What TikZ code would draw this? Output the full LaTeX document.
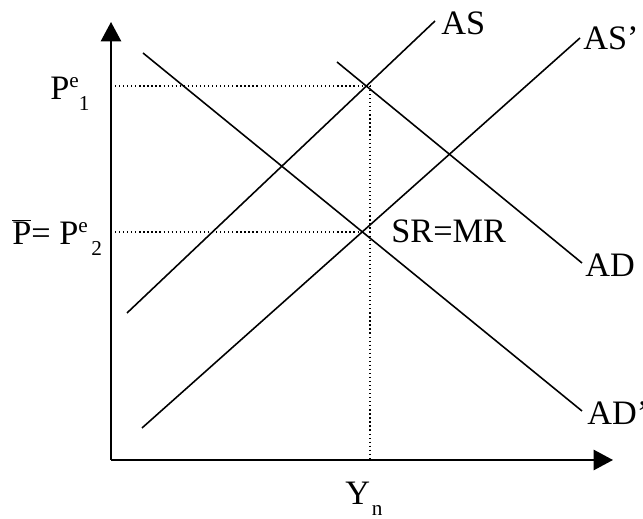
\documentclass[tikz,border=0pt]{standalone}
\usepackage{fontspec}
\setmainfont{Liberation Serif}
\usepackage{graphicx}
\usetikzlibrary{arrows.meta}
\newcommand{\lowsub}[1]{\raisebox{-0.32em}{\scalebox{0.62}{#1}}}
\newcommand{\highsup}[1]{\raisebox{0.36em}{\scalebox{0.62}{#1}}}
\tikzset{
    axis/.style={line width=1.1pt, -{Triangle[length=11pt, width=11.5pt]}},
    curve/.style={line width=0.9pt},
    guide/.style={line width=0.7pt, dash pattern=on 0.7pt off 1.6pt},
    lbl/.style={inner sep=0pt, anchor=base west, font=\fontsize{19.5}{23}\selectfont},
}

\begin{document}
\begin{tikzpicture}[x=0.02cm, y=-0.02cm]
    \useasboundingbox (0,0) rectangle (643,519);
    % axes
    \coordinate (origin) at (111,460);
    \coordinate (ytop) at (111,22);
    \coordinate (xend) at (613,460);
    \draw[axis] (origin) -- (ytop);
    \draw[axis] (origin) -- (xend);
    % curve ends
    \coordinate (asLow) at (127,313);
    \coordinate (asHigh) at (435,21);
    \coordinate (asbLow) at (142,428);
    \coordinate (asbHigh) at (580,38);
    \coordinate (adHigh) at (337,62);
    \coordinate (adLow) at (582,263);
    \coordinate (adbHigh) at (143,53);
    \coordinate (adbLow) at (582,411);
    \draw[curve] (asLow) -- (asHigh);
    \draw[curve] (asbLow) -- (asbHigh);
    \draw[curve] (adHigh) -- (adLow);
    \draw[curve] (adbHigh) -- (adbLow);
    % equilibria and guide lines
    \coordinate (eqOne) at (370,86);
    \coordinate (eqTwo) at (363,232);
    \coordinate (pOne) at (111,86);
    \coordinate (pTwo) at (111,232);
    \coordinate (yn) at (370,460);
    \draw[guide] (pOne) -- (eqOne);
    \draw[guide] (pTwo) -- (eqTwo);
    \draw[guide] (eqOne) -- (yn);
    % labels
    \node[lbl] (asLab) at (441,35) {AS};
    \node[lbl] (asbLab) at (583,50) {AS’};
    \node[lbl] (adLab) at (585,277) {AD};
    \node[lbl] (adbLab) at (587,425) {AD’};
    \node[lbl] (srLab) at (391,243) {SR=MR};
    \node[lbl] (ynLab) at (345,505) {Y\kern1pt\lowsub{n}};
    \node[lbl] (pOneLab) at (50,100) {P\highsup{e}\lowsub{1}};
    \node[lbl] (pTwoLab) at (12,245) {$\overline{\mbox{P}}$= P\highsup{e}\kern2pt\lowsub{2}};
\end{tikzpicture}
\end{document}
